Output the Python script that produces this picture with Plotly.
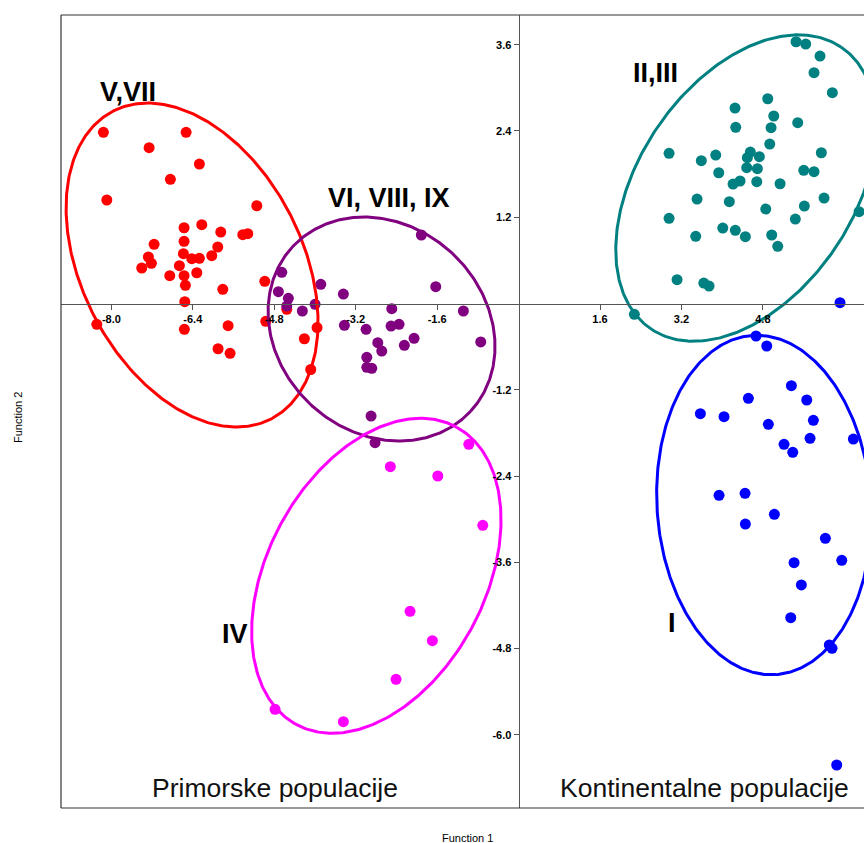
import numpy as np
import plotly.graph_objects as go

# ---------------- data ----------------
red_x = [-8.157, -6.532, -7.259, -6.271, -6.841, -8.090, -5.143, -6.572, -6.224, -5.851,
         -5.418, -5.320, -7.161, -6.572, -5.910, -6.585, -6.420, -6.271, -6.028, -7.273,
         -7.214, -7.403, -6.664, -6.853, -6.572, -6.322, -4.986, -6.546, -5.811, -6.558,
         -8.287, -5.707, -4.967, -6.566, -5.904, -5.668, -3.959, -4.208, -4.083, -4.554]
red_y = [2.381, 2.381, 2.167, 1.940, 1.727, 1.440, 1.360, 1.054, 1.096, 0.994,
         0.957, 0.971, 0.823, 0.865, 0.786, 0.693, 0.623, 0.629, 0.665, 0.647,
         0.559, 0.494, 0.526, 0.387, 0.387, 0.428, 0.309, 0.253, 0.197, 0.025,
         -0.289, -0.309, -0.248, -0.359, -0.629, -0.693, -0.334, -0.490, -0.918, -0.080]

purple_x = [-4.652, -4.719, -4.523, -4.554, -4.248, -3.886, -3.998, -3.442, -3.422, -2.996,
            -2.766, -2.688, -2.982, -2.982, -2.884, -2.491, -2.505, -2.348, -2.244, -2.053,
            -1.910, -1.627, -1.084, -0.743, -2.898, -2.819]
purple_y = [0.434, 0.164, 0.072, -0.035, -0.104, 0.267, -0.011, 0.132, -0.303, -0.359,
            -0.545, -0.661, -0.748, -0.887, -0.901, -0.072, -0.313, -0.289, -0.581, -0.484,
            0.953, 0.234, -0.104, -0.535, -1.565, -1.936]

magenta_x = [-2.519, -1.587, -0.978, -0.703, -2.132, -1.693, -2.407, -4.784, -3.442]
magenta_y = [-2.270, -2.399, -1.958, -3.085, -4.281, -4.690, -5.227, -5.644, -5.816]

teal_x = [5.452, 5.642, 5.923, 5.805, 6.165, 4.896, 4.253, 5.014, 4.267, 4.961,
          5.485, 4.935, 2.957, 3.591, 3.874, 4.554, 4.495, 4.731, 5.949, 4.483,
          4.692, 3.933, 5.603, 5.805, 4.352, 4.214, 4.680, 5.138, 3.507, 4.141,
          6.002, 4.857, 5.615, 5.438, 2.957, 6.690, 4.012, 4.259, 4.456, 3.481,
          4.974, 5.092, 3.114, 3.639, 3.743, 2.275]
teal_y = [3.641, 3.609, 3.442, 3.210, 2.932, 2.848, 2.719, 2.608, 2.451, 2.445,
          2.515, 2.218, 2.089, 1.986, 2.065, 2.107, 2.028, 2.042, 2.097, 1.889,
          1.875, 1.819, 1.853, 1.833, 1.704, 1.662, 1.694, 1.666, 1.453, 1.416,
          1.467, 1.314, 1.356, 1.175, 1.185, 1.277, 1.050, 1.018, 0.929, 0.935,
          0.953, 0.796, 0.331, 0.285, 0.243, -0.150]

blue_x = [6.316, 4.666, 4.876, 5.360, 5.662, 4.515, 3.572, 4.037, 4.908, 5.792,
          5.727, 6.578, 5.216, 5.387, 3.939, 4.450, 4.456, 5.026, 6.028, 6.350,
          5.413, 5.556, 5.348, 6.106, 6.159, 6.251]
blue_y = [0.011, -0.452, -0.591, -1.143, -1.342, -1.318, -1.533, -1.574, -1.680, -1.624,
          -1.875, -1.885, -1.958, -2.070, -2.668, -2.640, -3.067, -2.932, -3.266, -3.572,
          -3.605, -3.915, -4.370, -4.750, -4.796, -6.419]

x_ticks = [-8.0, -6.4, -4.8, -3.2, -1.6, 1.6, 3.2, 4.8]
y_ticks = [3.6, 2.4, 1.2, -1.2, -2.4, -3.6, -4.8, -6.0]

group_labels = ["V,VII", "VI, VIII, IX", "IV", "II,III", "I"]
region_labels = ["Primorske populacije", "Kontinentalne populacije"]

# ---------------- layout constants ----------------
# page body margin is removed in post_script, so the figure fills the 864x843 window
W, H = 864, 843
ML, MR, MT, MB = 61, 0, 15, 35
XR = [-8.99, 6.787]
YR = [-7.017, 4.013]
PW, PH = W - ML - MR, H - MT - MB
px_x = PW / (XR[1] - XR[0])
px_y = PH / (YR[1] - YR[0])

RED, PURPLE, MAGENTA, TEAL, BLUE = "#FF0000", "#800080", "#FF00FF", "#008080", "#0000FF"


def ellipse(cx, cy, a_px, b_px, theta_deg, n=400):
    t = np.linspace(0, 2 * np.pi, n)
    th = np.radians(theta_deg)
    dx = a_px * np.cos(t) * np.cos(th) - b_px * np.sin(t) * np.sin(th)
    dy = a_px * np.cos(t) * np.sin(th) + b_px * np.sin(t) * np.cos(th)
    return cx + dx / px_x, cy - dy / px_y


fig = go.Figure()

groups = [
    (red_x, red_y, RED, (-6.415, 0.535, 173, 110.4, 62.9)),
    (purple_x, purple_y, PURPLE, (-2.692, -0.355, 121.2, 103.6, 42.6)),
    (magenta_x, magenta_y, MAGENTA, (-2.794, -3.787, 168.9, 108.7, -61.8)),
    (teal_x, teal_y, TEAL, (4.470, 1.606, 170, 107.5, -56)),
    (blue_x, blue_y, BLUE, (4.823, -2.803, 170, 107, 86)),
]

for gx, gy, col, ell in groups:
    fig.add_trace(go.Scatter(x=gx, y=gy, mode="markers",
                             marker=dict(color=col, size=11, line=dict(width=0)),
                             showlegend=False, hoverinfo="skip"))
for gx, gy, col, ell in groups:
    ex, ey = ellipse(*ell)
    fig.add_trace(go.Scatter(x=ex, y=ey, mode="lines", line=dict(color=col, width=3),
                             showlegend=False, hoverinfo="skip"))

axis_common = dict(showgrid=False, zeroline=False, showline=True, linecolor="#555555",
                   linewidth=1.3, ticks="outside", ticklen=5, tickcolor="#555555",
                   tickwidth=1, anchor="free",
                   tickfont=dict(family="Liberation Sans, Arial", size=11, color="black",
                                 weight="bold"))

fig.update_layout(
    width=W, height=H,
    margin=dict(l=ML, r=MR, t=MT, b=MB),
    paper_bgcolor="white", plot_bgcolor="white",
    xaxis=dict(range=XR, tickvals=x_ticks, ticktext=[f"{v:.1f}" for v in x_ticks],
               position=(0 - YR[0]) / (YR[1] - YR[0]), **axis_common),
    yaxis=dict(range=YR, tickvals=y_ticks, ticktext=[f"{v:.1f}" for v in y_ticks],
               position=(0 - XR[0]) / (XR[1] - XR[0]), **axis_common),
    font=dict(family="Liberation Sans, Arial", color="black"),
)

# frame (left, top, bottom)
frame = dict(type="line", xref="paper", yref="paper", line=dict(color="#333333", width=1.2))
fig.add_shape(x0=0, x1=0, y0=0, y1=1, **frame)
fig.add_shape(x0=0, x1=1, y0=1, y1=1, **frame)
fig.add_shape(x0=0, x1=1, y0=0, y1=0, **frame)

# group labels
label_pos = [(-7.672, 2.942), (-2.544, 1.474), (-5.570, -4.597), (2.682, 3.206), (3.016, -4.437)]
for txt, (lx, ly) in zip(group_labels, label_pos):
    fig.add_annotation(x=lx, y=ly, xref="x", yref="y", text=txt, showarrow=False,
                       xanchor="center", yanchor="middle",
                       font=dict(family="Liberation Sans, Arial", size=27, color="black",
                                 weight="bold"))

region_pos = [(-4.784, -6.74), (3.644, -6.74)]
for txt, (lx, ly) in zip(region_labels, region_pos):
    fig.add_annotation(x=lx, y=ly, xref="x", yref="y", text=txt, showarrow=False,
                       xanchor="center", yanchor="middle",
                       font=dict(family="Liberation Sans, Arial", size=26.5, color="#111111"))

# axis titles (window pixel positions converted to paper fractions)
fx, fy = 467, 838
fig.add_annotation(x=(fx - ML) / PW, y=(H - MB - fy) / PH,
                   xref="paper", yref="paper", text="Function 1", showarrow=False,
                   xanchor="center", yanchor="middle", font=dict(size=11, color="black"))
gx2, gy2 = 18, 418
fig.add_annotation(x=(gx2 - ML) / PW, y=(H - MB - gy2) / PH,
                   xref="paper", yref="paper", text="Function 2", showarrow=False,
                   xanchor="center", yanchor="middle",
                   textangle=-90, font=dict(size=11, color="black"))

fig.write_html("out.html",
               config={"displayModeBar": False, "staticPlot": True},
               post_script="document.body.style.margin='0px';"
                           "document.body.style.overflow='hidden';")
